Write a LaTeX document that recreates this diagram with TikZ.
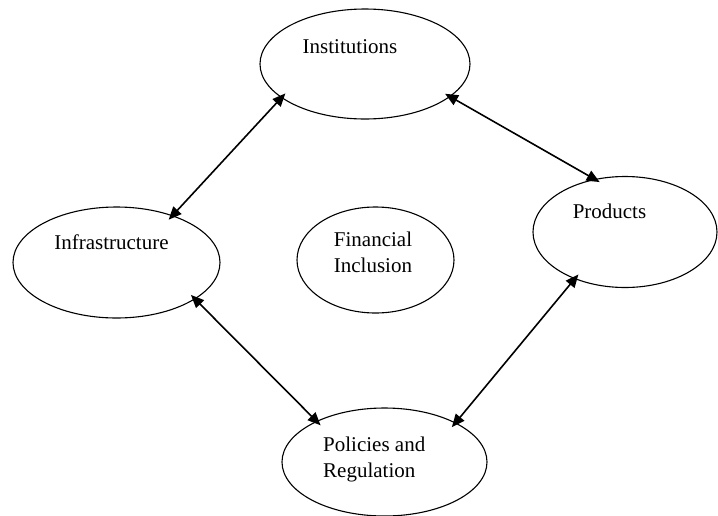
\documentclass[tikz,border=0pt]{standalone}
\usepackage{fontspec}
\setmainfont{Liberation Serif}
\usetikzlibrary{shapes.geometric,arrows.meta}
\begin{document}
\begin{tikzpicture}[x=1pt,y=-1pt,
  oval/.style={draw,ellipse,inner sep=0pt,line width=1.1pt},
  lbl/.style={inner sep=0pt,font=\fontsize{21}{26}\selectfont},
  link/.style={line width=1.6pt,{Triangle[length=13pt,width=11pt]}-{Triangle[length=13pt,width=11pt]},
    shorten <=-6pt,shorten >=-6pt}]
\useasboundingbox (0,0) rectangle (718,515);
\clip (0,0) rectangle (718,515);

% the five ovals
\node[oval,minimum width=210pt,minimum height=110pt] (inst) at (365,64) {};
\node[oval,minimum width=207pt,minimum height=111pt] (infra) at (116.5,262.5) {};
\node[oval,minimum width=157pt,minimum height=106pt] (fin) at (375.5,260) {};
\node[oval,minimum width=184pt,minimum height=111pt] (prod) at (625,232) {};
\node[oval,minimum width=205pt,minimum height=108pt] (pol) at (384.5,462) {};

% labels (multi-line labels sit on the baseline of their last line)
\node[lbl,anchor=base] (tinst) at (350,53) {Institutions};
\node[lbl,anchor=base] (tinfra) at (111.5,249) {Infrastructure};
\node[lbl,anchor=base] (tprod) at (609.5,218) {Products};
\node[lbl,anchor=base,align=center] (tfin) at (373,272) {Financial\\Inclusion};
\node[lbl,anchor=base west,align=left] (tpol) at (323,477) {Policies and\\Regulation};

% two-way links around the centre
\draw[link] (inst.202) -- (infra.40);
\draw[link] (inst.339) -- (prod.120);
\draw[link] (infra.335) -- (pol.149);
\draw[link] (prod.223) -- (pol.29);
\end{tikzpicture}
\end{document}
